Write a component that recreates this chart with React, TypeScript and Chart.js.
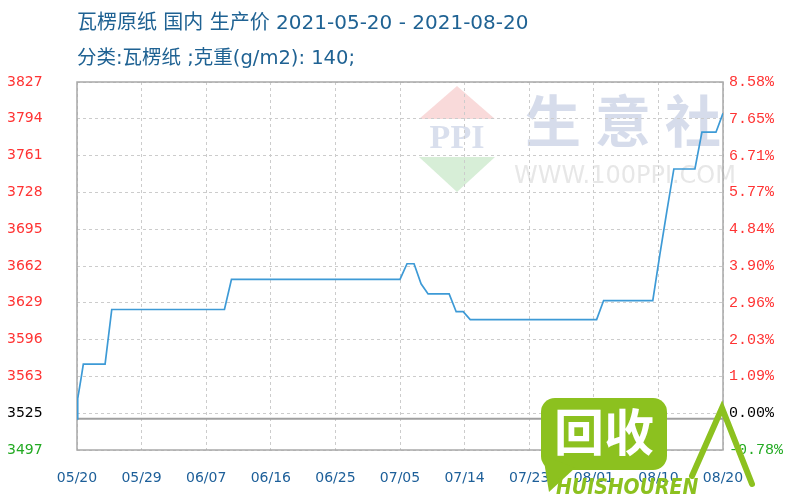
import { useEffect, useRef } from "react";
import { Chart, registerables } from "chart.js";

Chart.register(...registerables);

const TITLE = "瓦楞原纸 国内 生产价 2021-05-20 - 2021-08-20";
const SUBTITLE = "分类:瓦楞纸 ;克重(g/m2): 140;";

// day offsets from 2021-05-20 and price (元/吨)
const priceDays = [0, 0.1, 0.65, 0.9, 4, 4.95, 21, 22, 46, 47, 48, 49, 50, 53, 54, 55, 56, 74, 75, 82, 83, 84, 85, 88, 89, 91, 92];
const priceValues = [3525, 3543, 3564, 3574, 3574, 3623, 3623, 3650, 3650, 3664, 3664, 3646, 3637, 3637, 3621, 3621, 3614, 3614, 3631, 3631, 3672, 3711, 3749, 3749, 3782, 3782, 3799];

const BASE_PRICE = 3525;

const xTickDays = [0, 9.2, 18.4, 27.6, 36.8, 46, 55.2, 64.4, 73.6, 82.8, 92];
const xTickLabels = ["05/20", "05/29", "06/07", "06/16", "06/25", "07/05", "07/14", "07/23", "08/01", "08/10", "08/20"];

const yTickValues = [3497, 3530, 3563, 3596, 3629, 3662, 3695, 3728, 3761, 3794, 3827];
const yLeftLabels = ["3497", "3525", "3563", "3596", "3629", "3662", "3695", "3728", "3761", "3794", "3827"];
const yRightLabels = ["-0.78%", "0.00%", "1.09%", "2.03%", "2.96%", "3.90%", "4.84%", "5.77%", "6.71%", "7.65%", "8.58%"];

const RED = "#ff3333";
const GREEN = "#22aa22";
const labelColor = (i: number) => (i === 0 ? GREEN : i === 1 ? "#000000" : RED);

const watermarkPlugin = {
  id: "watermark",
  beforeDraw(chart: any) {
    const ctx = chart.ctx;
    ctx.save();
    // PPI diamond
    ctx.fillStyle = "rgba(238,150,150,0.35)";
    ctx.beginPath();
    ctx.moveTo(457, 86);
    ctx.lineTo(419, 119);
    ctx.lineTo(495, 119);
    ctx.closePath();
    ctx.fill();
    ctx.fillStyle = "rgba(140,205,140,0.35)";
    ctx.beginPath();
    ctx.moveTo(419, 157);
    ctx.lineTo(495, 157);
    ctx.lineTo(457, 192);
    ctx.closePath();
    ctx.fill();
    ctx.fillStyle = "rgba(170,185,215,0.45)";
    ctx.font = "bold 34px 'Liberation Serif'";
    ctx.textAlign = "center";
    ctx.textBaseline = "middle";
    ctx.fillText("PPI", 457, 139);
    // 生意社
    ctx.fillStyle = "rgba(200,208,228,0.75)";
    ctx.font = "bold 56px 'Noto Sans CJK SC'";
    ["生", "意", "社"].forEach((c, i) => ctx.fillText(c, 553 + i * 70, 121));
    ctx.fillStyle = "rgba(215,215,215,0.6)";
    ctx.font = "24px 'DejaVu Sans'";
    ctx.fillText("WWW.100PPI.COM", 625, 177);
    ctx.restore();
  },
};

const framePlugin = {
  id: "frame",
  beforeDatasetsDraw(chart: any) {
    const { ctx, chartArea: a } = chart;
    ctx.save();
    ctx.strokeStyle = "#a8a8a8";
    ctx.lineWidth = 1.5;
    ctx.strokeRect(a.left, a.top, a.right - a.left, a.bottom - a.top);
    ctx.restore();
  },
};

const overlayPlugin = {
  id: "overlay",
  afterDraw(chart: any) {
    const ctx = chart.ctx;
    ctx.save();
    // titles
    ctx.fillStyle = "#1f6293";
    ctx.textAlign = "left";
    ctx.textBaseline = "middle";
    ctx.font = "20px 'DejaVu Sans', 'Noto Sans CJK SC'";
    ctx.fillText(TITLE, 77, 24);
    ctx.font = "19.5px 'DejaVu Sans', 'Noto Sans CJK SC'";
    ctx.fillText(SUBTITLE, 77, 59);

    // green logo overlay
    const g = "#8cc11f";
    ctx.fillStyle = g;
    ctx.beginPath();
    ctx.roundRect(541, 398, 126, 72, 14);
    ctx.fill();
    ctx.beginPath();
    ctx.moveTo(543, 455);
    ctx.lineTo(575, 468);
    ctx.lineTo(549, 492);
    ctx.closePath();
    ctx.fill();
    ctx.fillStyle = "#ffffff";
    ctx.font = "bold 50px 'Noto Sans CJK SC'";
    ctx.textAlign = "center";
    ctx.fillText("回收", 604, 432);
    ctx.fillStyle = g;
    ctx.font = "italic bold 21px 'DejaVu Sans Condensed', 'DejaVu Sans'";
    ctx.textAlign = "left";
    ctx.fillText("HUISHOUREN", 556, 489);
    ctx.strokeStyle = g;
    ctx.lineWidth = 6;
    ctx.lineCap = "round";
    ctx.beginPath();
    ctx.moveTo(692, 476);
    ctx.lineTo(722, 408);
    ctx.lineTo(752, 484);
    ctx.stroke();
    ctx.restore();
  },
};

export default function App() {
  const ref = useRef<HTMLCanvasElement | null>(null);
  useEffect(() => {
    if (!ref.current) return;
    const chart = new Chart(ref.current, {
      type: "line",
      data: {
        datasets: [
          {
            label: "price",
            data: priceDays.map((d, i) => ({ x: d, y: priceValues[i] })),
            borderColor: "#3d9ad6",
            borderWidth: 1.7,
            pointRadius: 0,
            tension: 0,
            yAxisID: "y",
          },
          {
            label: "base",
            data: [
              { x: priceDays[0], y: BASE_PRICE },
              { x: priceDays[priceDays.length - 1], y: BASE_PRICE },
            ],
            borderColor: "#a0a0a0",
            borderWidth: 2,
            pointRadius: 0,
            yAxisID: "y",
            order: 2,
          },
        ],
      },
      options: {
        responsive: false,
        animation: false,
        layout: { padding: { top: 82, left: 7, right: 0, bottom: 0 } },
        plugins: { legend: { display: false }, tooltip: { enabled: false }, title: { display: false } },
        scales: {
          x: {
            type: "linear",
            min: 0,
            max: 92,
            afterBuildTicks: (s: any) => {
              s.ticks = xTickDays.map((v) => ({ value: v }));
            },
            afterFit: (s: any) => {
              s.height = 50;
            },
            ticks: {
              callback: (_v: any, i: number) => xTickLabels[i],
              color: "#1d5f99",
              font: { family: "DejaVu Sans", size: 14 },
              padding: 20,
              maxRotation: 0,
              autoSkip: false,
            },
            grid: { color: "#cccccc", drawTicks: false, lineWidth: 1 },
            border: { display: false, dash: [3, 3] },
          },
          y: {
            position: "left",
            min: 3497,
            max: 3827,
            afterBuildTicks: (s: any) => {
              s.ticks = yTickValues.map((v) => ({ value: v }));
            },
            afterFit: (s: any) => {
              s.width = 70;
            },
            ticks: {
              callback: (_v: any, i: number) => yLeftLabels[i],
              color: (c: any) => labelColor(c.index),
              font: { family: "DejaVu Sans", size: 14 },
              crossAlign: "far",
              padding: 0,
            },
            grid: { color: "#cccccc", drawTicks: false, lineWidth: 1 },
            border: { display: false, dash: [3, 3] },
          },
          y2: {
            position: "right",
            min: 3497,
            max: 3827,
            afterBuildTicks: (s: any) => {
              s.ticks = yTickValues.map((v) => ({ value: v }));
            },
            afterFit: (s: any) => {
              s.width = 77;
            },
            ticks: {
              callback: (_v: any, i: number) => yRightLabels[i],
              color: (c: any) => labelColor(c.index),
              font: { family: "Liberation Mono", size: 15 },
              padding: 6,
            },
            grid: { display: false, drawTicks: false },
            border: { display: false },
          },
        },
      },
      plugins: [watermarkPlugin, framePlugin, overlayPlugin],
    } as any);
    return () => chart.destroy();
  }, []);
  return (
    <div style={{ position: "absolute", left: 0, top: 0, width: 800, height: 500, background: "#ffffff" }}>
      <canvas ref={ref} width={800} height={500} style={{ display: "block" }} />
    </div>
  );
}
